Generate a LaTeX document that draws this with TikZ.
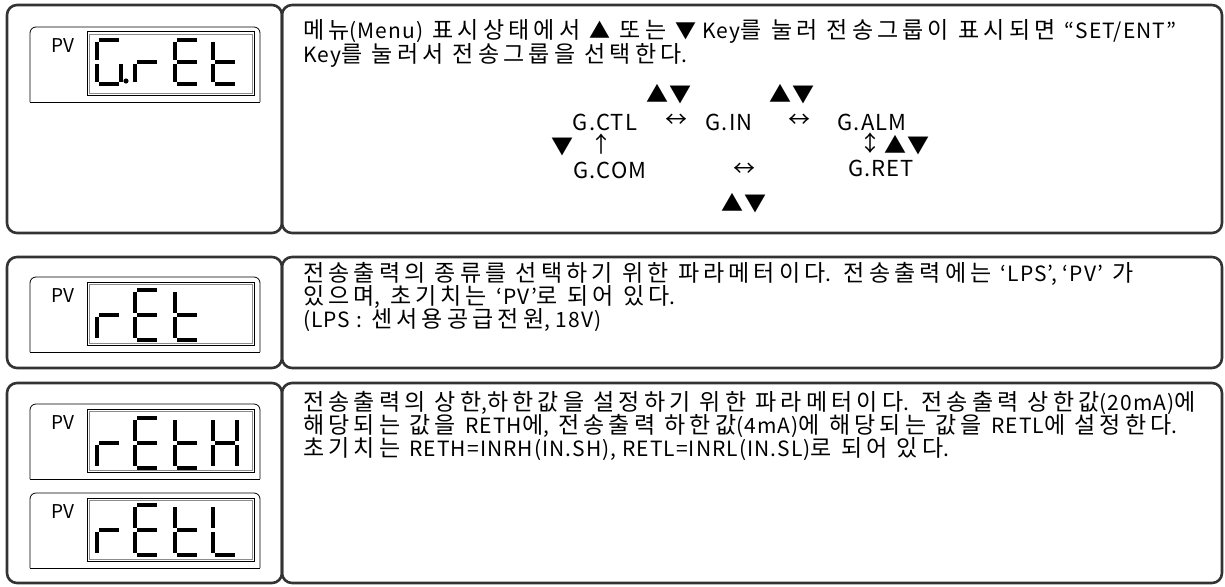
\documentclass[tikz,border=0pt]{standalone}
\usepackage{fontspec}
\setmainfont{Noto Sans CJK KR}
\newfontfamily\kowide{Noto Sans CJK KR}[LetterSpace=18]
\newfontfamily\lawide{Noto Sans CJK KR}[LetterSpace=5]
\newfontfamily\keywide{Noto Sans CJK KR}[LetterSpace=5]
\newcommand{\la}[1]{{\lawide\fontsize{21}{24}\selectfont #1}}
\usetikzlibrary{calc}

% segments of one lcd digit: x in digit widths, y in half heights
\def\dgG{0/0/1/0, 0/0/0/1, 0/1/0/2, 0/2/1/2, 1/1/1/2}
\def\dgr{0/1/0/2, 0/1/1/1}
\def\dgE{0/0/1/0, 0/0/0/1, 0/1/1/1, 0/1/0/2, 0/2/1/2}
\def\dgt{0/0/0/1, 0/1/1/1, 0/1/0/2, 0/2/1/2}
\def\dgH{1/0/1/1, 1/1/1/2, 0/1/0/2, 0/0/0/1, 0/1/1/1}
\def\dgL{0/0/0/1, 0/1/0/2, 0/2/1/2}

% left, top, half height, segments
\newcommand{\lcddigit}[4]{%
  \foreach \xa/\ya/\xb/\yb in #4
    \draw[seg] (#1+\xa*24, #2+\ya*#3) -- (#1+\xb*24, #2+\yb*#3);
}

\begin{document}
\begin{tikzpicture}[x=1pt, y=-1pt,
    frame/.style={draw=black!80, line width=2.6pt, rounded corners=10pt},
    seg/.style={line width=4.6pt, shorten <=2.4pt, shorten >=2.4pt},
    txt/.style={anchor=base west, inner sep=0pt, font=\kowide\fontsize{23}{24}\selectfont},
    key/.style={inner sep=0pt, font=\keywide\fontsize{22}{24}\selectfont},
    pvlabel/.style={inner sep=0pt, font=\fontsize{19}{19}\selectfont}]

    \useasboundingbox (0,0) rectangle (1225,586);

    % frames of the three rows
    \foreach \t/\b in {5/233, 257/368, 383/583}{
        \draw[frame] (7,\t) rectangle (282,\b);
        \draw[frame] (282,\t) rectangle (1222,\b);
    }

    % lcd panels
    \foreach \t/\b [count=\i] in {27/102, 277/352, 404/479, 493/568}{
        \draw[line width=0.8pt, rounded corners=6pt] (30,\b) -- (30,\t) -- (260,\t) -- (260,\b);
        \draw[line width=0.8pt] (30,\b) -- (260,\b);
        \draw[line width=1pt] (87,\t+5) rectangle (254,\b-7);
        \draw[black!45, line width=0.8pt] (89,\t+7) rectangle (252,\b-9);
        \node[pvlabel] (pv\i) at (63,\t+19) {PV};
    }

    % G.rEt
    \lcddigit{97}{40}{22}{\dgG}
    \fill (126,81) circle (2.6);
    \lcddigit{135}{40}{22}{\dgr}
    \lcddigit{175}{40}{22}{\dgE}
    \lcddigit{213}{40}{22}{\dgt}
    % rEt
    \lcddigit{97}{290}{25}{\dgr}
    \lcddigit{135}{290}{25}{\dgE}
    \lcddigit{175}{290}{25}{\dgt}
    % rEtH
    \lcddigit{97}{418}{25}{\dgr}
    \lcddigit{135}{418}{25}{\dgE}
    \lcddigit{175}{418}{25}{\dgt}
    \lcddigit{213}{418}{25}{\dgH}
    % rEtL
    \lcddigit{97}{505}{25}{\dgr}
    \lcddigit{135}{505}{25}{\dgE}
    \lcddigit{175}{505}{25}{\dgt}
    \lcddigit{213}{505}{25}{\dgL}

    % group selection
    \node[txt] (t1a) at (303,38) {메뉴\la{(Menu)} 표시상태에서 \la{▲} 또는 \la{▼ Key}를 눌러 전송그룹이 표시되면 \la{“SET/ENT”}};
    \node[txt] (t1b) at (303,63) {\la{Key}를 눌러서 전송그룹을 선택한다\la{.}};

    \node[key] (ud1) at (669,94) {▲▼};
    \node[key] (ud2) at (792,94) {▲▼};
    \node[key] (ctl) at (605,122) {G.CTL};
    \node[key] (lr1) at (676,121) {↔};
    \node[key] (gin) at (729,122) {G.IN};
    \node[key] (lr2) at (799,121) {↔};
    \node[key] (alm) at (872,122) {G.ALM};
    \node[key] (dn) at (562,147) {▼};
    \node[key] (up) at (601,144) {↑};
    \node[key] (ud) at (870,143) {↕};
    \node[key] (ud3) at (907,145) {▲▼};
    \node[key] (com) at (610,170) {G.COM};
    \node[key] (lr3) at (744,170) {↔};
    \node[key] (ret) at (881,168) {G.RET};
    \node[key] (ud4) at (744,203) {▲▼};

    % output type
    \node[txt] (t2a) at (303,281) {전송출력의 종류를 선택하기 위한 파라메터이다\la{.} 전송출력에는 \la{‘LPS’, ‘PV’} 가};
    \node[txt] (t2b) at (303,304) {있으며\la{,} 초기치는 \la{‘PV’}로 되어 있다\la{.}};
    \node[txt] (t2c) at (303,327) {\la{(LPS :} 센서용공급전원\la{, 18V)}};

    % output range
    \node[txt] (t3a) at (303,410) {전송출력의 상한\la{,}하한값을 설정하기 위한 파라메터이다\la{.} 전송출력 상한값\la{(20mA)}에};
    \node[txt] (t3b) at (303,433) {해당되는 값을 \la{RETH}에\la{,} 전송출력 하한값\la{(4mA)}에 해당되는 값을 \la{RETL}에 설정한다\la{.}};
    \node[txt] (t3c) at (303,456) {초기치는 \la{RETH=INRH(IN.SH), RETL=INRL(IN.SL)}로 되어 있다\la{.}};

\end{tikzpicture}
\end{document}
